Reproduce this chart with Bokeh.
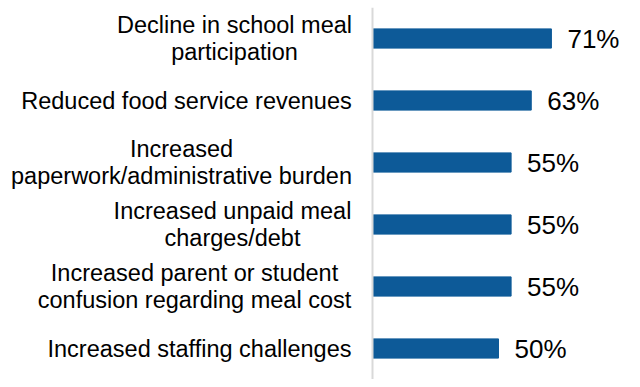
from bokeh.plotting import figure
from bokeh.models import FactorRange, Range1d, ColumnDataSource, Span
from bokeh.embed import file_html
from bokeh.resources import INLINE
from bokeh.core.properties import value

categories = [
    "Decline in school meal\nparticipation",
    "Reduced food service revenues",
    "Increased\npaperwork/administrative burden",
    "Increased unpaid meal\ncharges/debt",
    "Increased parent or student\nconfusion regarding meal cost",
    "Increased staffing challenges",
]
percent = [71, 63, 55, 55, 55, 50]
labels = [f"{v}%" for v in percent]

# layout: horizontal offset (px) of each category label block centre from the axis
label_offsets = [-138, -186, -191, -140, -178, -173]

src = ColumnDataSource(dict(cat=categories, val=percent, lab=labels,
                            zero=[0] * len(categories), off=label_offsets))

PX_PER_PCT = 2.52
AXIS_PX = 372
W, H = 631, 379
p = figure(width=W, height=H, output_backend="svg", toolbar_location=None,
           y_range=FactorRange(factors=categories[::-1], range_padding=0),
           x_range=Range1d(-AXIS_PX / PX_PER_PCT, (W - AXIS_PX) / PX_PER_PCT),
           min_border_left=0, min_border_right=0, min_border_top=7, min_border_bottom=0)

p.hbar(y="cat", right="val", left=0, height=0.31, source=src, color="#0D5A98")
p.text(x="val", y="cat", text="lab", source=src, x_offset=16, text_baseline="middle",
       text_align="left", text_font=value("Liberation Sans"), text_font_size="26px",
       text_color="#000000")
p.text(x="zero", y="cat", text="cat", source=src, x_offset="off", text_baseline="middle",
       text_align="center", text_font=value("Liberation Sans"), text_font_size="23.5px",
       text_color="#000000", text_line_height=1.07)

p.add_layout(Span(location=0, dimension="height", line_color="#d9d9d9", line_width=2))

p.xaxis.visible = False
p.yaxis.visible = False
p.xgrid.visible = False
p.ygrid.visible = False
p.outline_line_color = None

open("out.html", "w").write(file_html(p, INLINE))
